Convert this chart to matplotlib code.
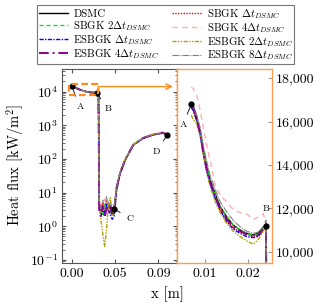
import matplotlib
matplotlib.use("Agg")
import matplotlib.pyplot as plt
from matplotlib.patches import Rectangle
from matplotlib.ticker import FuncFormatter, FixedLocator, FixedFormatter, LogLocator, NullFormatter

plt.rcParams['font.family'] = ['cmr10', 'DejaVu Serif']
plt.rcParams['mathtext.fontset'] = 'cm'
plt.rcParams['axes.formatter.use_mathtext'] = True

labels = ["DSMC", r"SBGK $\Delta t_{DSMC}$",
          r"SBGK 2$\Delta t_{DSMC}$", r"SBGK 4$\Delta t_{DSMC}$",
          r"ESBGK $\Delta t_{DSMC}$", r"ESBGK 2$\Delta t_{DSMC}$",
          r"ESBGK 4$\Delta t_{DSMC}$", r"ESBGK 8$\Delta t_{DSMC}$"]

# ---- full profile (left panel) ----
x_full = [0, 0.005, 0.01, 0.015, 0.02, 0.0266, 0.0284, 0.0292, 0.031, 0.033, 0.035,
          0.037, 0.039, 0.041, 0.043, 0.045, 0.0478, 0.0513, 0.0566, 0.0654, 0.076,
          0.0867, 0.0973, 0.101]
head = [14500, 12500, 11000, 10000, 9400, 9200, 9000]
dsmc_full   = head + [4.5, 3.5, 4.0, 3.0, 3.8, 3.2, 4.0, 3.5, 3.3, 15, 38, 93, 263, 417, 525, 590, 500]
sbgk1_full  = head + [4.0, 2.5, 5.0, 3.5, 6.0, 2.8, 4.5, 3.0, 3.5, 14, 36, 90, 255, 410, 520, 600, 510]
sbgk2_full  = head + [5.0, 3.0, 2.0, 4.5, 3.0, 5.5, 2.5, 3.0, 2.2, 13, 40, 95, 270, 425, 540, 620, 520]
sbgk4_full  = head + [5.5, 4.0, 3.0, 6.5, 4.0, 3.0, 5.0, 4.0, 3.0, 16, 42, 98, 270, 430, 550, 640, 530]
esbgk1_full = head + [4.0, 2.0, 3.0, 2.5, 4.5, 3.0, 2.2, 1.6, 2.0, 12, 35, 88, 255, 410, 515, 590, 500]
esbgk2_full = head + [4.5, 1.5, 0.6, 0.25, 0.8, 5.0, 7.0, 2.0, 4.0, 13, 38, 92, 260, 420, 530, 610, 510]
esbgk4_full = head + [3.0, 2.0, 4.0, 1.8, 3.5, 2.5, 4.0, 2.0, 2.5, 14, 37, 92, 262, 415, 525, 595, 500]
esbgk8_full = head + [5.0, 3.5, 6.0, 3.0, 7.5, 5.0, 4.5, 3.5, 3.8, 15, 39, 94, 265, 420, 530, 600, 505]

# ---- zoomed region (right panel) ----
x_zoom = [0.0068, 0.0073, 0.0081, 0.0089, 0.0096, 0.0104, 0.0112, 0.0123, 0.0135, 0.0150,
          0.0165, 0.0181, 0.0196, 0.0212, 0.0223, 0.0235, 0.0241, 0.0242]
dsmc_zoom   = [16800, 16690, 16150, 15540, 14690, 13920, 13310, 12690, 12075, 11610, 11230, 11000, 10850, 10770, 10850, 11150, 11200, 9000]
sbgk1_zoom  = [16700, 16600, 16050, 15400, 14550, 13800, 13150, 12550, 11950, 11450, 11100, 10900, 10800, 10700, 10750, 11050, 11150, 9000]
sbgk2_zoom  = [16750, 16650, 16100, 15500, 14650, 13950, 13300, 12700, 12100, 11650, 11250, 11000, 10850, 10750, 10800, 11100, 11150, 9000]
sbgk4_zoom  = [17600, 17500, 17200, 16500, 15700, 14900, 14200, 13100, 12600, 12300, 11950, 11800, 11750, 11480, 11600, 11750, 11200, 9000]
esbgk1_zoom = [16650, 16500, 16000, 15350, 14500, 13700, 13100, 12450, 11900, 11400, 11050, 10850, 10700, 10650, 10700, 11000, 11150, 9000]
esbgk2_zoom = [16300, 16100, 15900, 15300, 14450, 13650, 13000, 12350, 11800, 11300, 10950, 10700, 10500, 10350, 10550, 10950, 11100, 9000]
esbgk4_zoom = [16750, 16600, 16050, 15450, 14600, 13800, 13200, 12600, 12000, 11500, 11150, 10950, 10800, 10700, 10750, 11050, 11150, 9000]
esbgk8_zoom = [16850, 16750, 16300, 15700, 14900, 14150, 13500, 12900, 12300, 11850, 11450, 11150, 10950, 10850, 10900, 11150, 11200, 9000]

full_series = [dsmc_full, sbgk1_full, sbgk2_full, sbgk4_full, esbgk1_full, esbgk2_full, esbgk4_full, esbgk8_full]
zoom_series = [dsmc_zoom, sbgk1_zoom, sbgk2_zoom, sbgk4_zoom, esbgk1_zoom, esbgk2_zoom, esbgk4_zoom, esbgk8_zoom]

styles = [
    dict(color='black', ls='-', lw=1.0),
    dict(color='red', ls=(0, (1, 1)), lw=1.0),
    dict(color='#22dd22', ls=(0, (3, 2)), lw=1.0),
    dict(color='#ffb0b0', ls=(0, (4, 3)), lw=1.0),
    dict(color='blue', ls=(0, (3, 1, 1, 1)), lw=1.0),
    dict(color='#b0a000', ls=(0, (3, 1, 1, 1, 1, 1)), lw=1.0),
    dict(color='#8b008b', ls=(0, (5, 2, 1, 2)), lw=1.4),
    dict(color='#808080', ls=(0, (6, 1, 1, 1)), lw=0.8),
]

left_pts_x = [0, 0.0266, 0.045, 0.101]
left_pts_y = [14500, 9200, 3.3, 500]
left_pt_names = ["A", "B", "C", "D"]
left_txt_x = [0.0088, 0.0382, 0.0619, 0.0903]
left_txt_y = [3440, 3000, 1.64, 166]

right_pts_x = [0.0068, 0.0241]
right_pts_y = [16800, 11200]
right_pt_names = ["A", "B"]
right_txt_x = [0.00485, 0.0241]
right_txt_y = [15845, 11970]

orange = '#f7a050'
frame = '#555555'

fig = plt.figure(figsize=(3.25, 3.06), dpi=100)
axL = fig.add_axes([0.1908, 0.1395, 0.3538, 0.634])
axR = fig.add_axes([0.5446, 0.1395, 0.2923, 0.634])

handles = []
for ys, st in zip(full_series, styles):
    h, = axL.plot(x_full, ys, **st)
    handles.append(h)
for ys, st in zip(zoom_series, styles):
    axR.plot(x_zoom, ys, **st)

axL.set_yscale('log')
axL.set_ylim(0.079, 45700)
axL.set_xlim(-0.0103, 0.1118)
axL.xaxis.set_major_locator(FixedLocator([0, 0.046, 0.092]))
axL.xaxis.set_major_formatter(FixedFormatter(['0.00', '0.05', '0.09']))
axL.yaxis.set_major_locator(LogLocator(base=10, numticks=10))
axL.yaxis.set_minor_locator(LogLocator(base=10, subs=range(2, 10), numticks=20))
axL.yaxis.set_minor_formatter(NullFormatter())
axL.tick_params(which='both', direction='in', top=True, right=True, labelsize=10,
                color=frame, pad=3)
axL.tick_params(which='major', length=3)
axL.tick_params(which='minor', length=1.8)
for s in ['left', 'top', 'bottom']:
    axL.spines[s].set_color(frame)
axL.spines['right'].set_color(orange)
axL.spines['right'].set_linewidth(1.0)

axR.set_xlim(0.0035, 0.0255)
axR.set_ylim(9465, 18415)
axR.set_xticks([0.01, 0.02])
axR.xaxis.set_major_formatter(FuncFormatter(lambda v, p: f'{v:.2f}'))
axR.set_yticks([10000, 12000, 14000, 16000, 18000])
axR.yaxis.set_major_formatter(FuncFormatter(lambda v, p: f'{int(v):,}'))
axR.yaxis.tick_right()
axR.tick_params(which='both', direction='in', labelsize=10, length=3, color='#999999', pad=3)
for s in axR.spines.values():
    s.set_color(orange)
    s.set_linewidth(1.0)

# markers and annotations
axL.plot(left_pts_x, left_pts_y, 'o', color='black', ms=3.5, zorder=10)
for n, px, py, tx, ty in zip(left_pt_names, left_pts_x, left_pts_y, left_txt_x, left_txt_y):
    axL.annotate(n, xy=(px, py), xytext=(tx, ty), fontsize=7, ha='center', va='center',
                 arrowprops=dict(arrowstyle='-', color='black', lw=0.6, shrinkA=3, shrinkB=1),
                 zorder=11)
axR.plot(right_pts_x, right_pts_y, 'o', color='black', ms=3.5, zorder=10)
for n, px, py, tx, ty in zip(right_pt_names, right_pts_x, right_pts_y, right_txt_x, right_txt_y):
    axR.annotate(n, xy=(px, py), xytext=(tx, ty), fontsize=7, ha='center', va='center',
                 arrowprops=dict(arrowstyle='-', color='black', lw=0.6, shrinkA=3, shrinkB=1),
                 zorder=11)

# zoom rectangle and arrow
axL.add_patch(Rectangle((-0.00255, 7980), 0.0309, 16900 - 7980, fill=False,
                        ec='#ff8c1a', lw=1.6, ls=(0, (3, 1.5)), zorder=12))
axL.annotate('', xy=(0.965, 14070), xycoords=('axes fraction', 'data'),
             xytext=(0.0283, 14070), textcoords='data',
             arrowprops=dict(arrowstyle='->', color='#ff8c1a', lw=1.0, shrinkA=0, shrinkB=0))

fig.text(0.046, 0.46, r'Heat flux [kW/m$^2$]', rotation=90, ha='center', va='center', fontsize=10.5)
fig.text(0.515, 0.04, 'x [m]', ha='center', va='center', fontsize=10.5)

# legend filled row by row (matplotlib fills column-wise)
order = [0, 2, 4, 6, 1, 3, 5, 7]
leg = fig.legend([handles[i] for i in order], [labels[i] for i in order], ncol=2,
                 loc='upper center', bbox_to_anchor=(0.51, 1.0),
                 fontsize=7.8, frameon=True, fancybox=False, edgecolor=frame,
                 handlelength=2.7, columnspacing=1.2, labelspacing=0.0,
                 borderpad=0.15, handletextpad=0.5)
leg.get_frame().set_linewidth(0.8)

fig.savefig('out.png', dpi=100)
